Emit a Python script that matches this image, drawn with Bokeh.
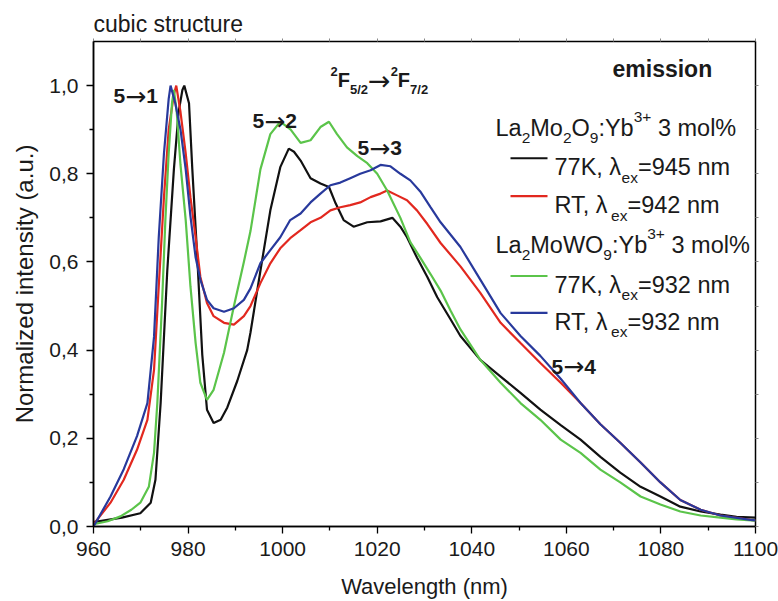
from bokeh.plotting import figure
from bokeh.models import Range1d, LinearAxis, FixedTicker, CustomJSTickFormatter, Label, Title
from bokeh.embed import file_html
from bokeh.resources import INLINE

# ---------------- data ----------------
wl_77k_mo2 = [960, 963, 966, 969.9, 972.1, 973.1, 974.2, 975.6, 977, 978, 978.8, 979.2, 980.2, 980.9,
              981.9, 983, 984, 985.4, 986.9, 988.3, 990.4, 992.5, 993.2, 995.3, 997.4, 999.5, 1001.3,
              1002.4, 1003.8, 1005.9, 1008, 1009.8, 1011.2, 1012.9, 1015, 1017.9, 1020.7, 1023.2,
              1024.9, 1026.3, 1028.4, 1030.6, 1032.7, 1035.5, 1037.6, 1041.8, 1046.1, 1050.3, 1054.5,
              1058.8, 1063, 1067.2, 1071.4, 1075.7, 1079.9, 1084.1, 1088.4, 1092.6, 1096, 1100]
int_77k_mo2 = [0.01, 0.015, 0.02, 0.03, 0.054, 0.106, 0.28, 0.58, 0.81, 0.94, 0.99, 1.0, 0.96, 0.81,
               0.62, 0.39, 0.265, 0.235, 0.242, 0.27, 0.33, 0.40, 0.44, 0.58, 0.717, 0.815, 0.857,
               0.85, 0.83, 0.79, 0.778, 0.77, 0.733, 0.695, 0.68, 0.69, 0.692, 0.70,
               0.68, 0.656, 0.61, 0.566, 0.52, 0.47, 0.432, 0.378, 0.34, 0.303, 0.265,
               0.23, 0.197, 0.158, 0.122, 0.09, 0.068, 0.045, 0.034, 0.027, 0.022, 0.02]

wl_rt_mo2 = [960, 963.6, 966.4, 969.2, 971.4, 972.8, 973.8, 974.9, 975.9, 977, 977.5, 978.4, 979.5,
             980.5, 981.6, 982.6, 984, 985.4, 987.6, 989.7, 991.8, 993.2, 995.3, 997.4, 999.5, 1001.6,
             1003.8, 1005.9, 1008, 1010.1, 1012.2, 1014.3, 1016.4, 1018.6, 1020.7, 1022.1, 1024.2,
             1026.3, 1028.4, 1030.6, 1033.4, 1037.6, 1041.8, 1046.1, 1050.3, 1054.5, 1058.8, 1063,
             1067.2, 1071.4, 1075.7, 1079.9, 1084.1, 1088.4, 1092.6, 1098.9, 1100]
int_rt_mo2 = [0.005, 0.054, 0.106, 0.174, 0.242, 0.355, 0.545, 0.747, 0.90, 0.98, 1.0, 0.94, 0.846,
              0.747, 0.656, 0.566, 0.507, 0.477, 0.462, 0.458, 0.477, 0.50, 0.552, 0.597, 0.631, 0.654,
              0.672, 0.69, 0.70, 0.717, 0.724, 0.729, 0.735, 0.747, 0.755, 0.762, 0.751,
              0.74, 0.717, 0.686, 0.643, 0.59, 0.53, 0.462, 0.416, 0.371, 0.326, 0.28,
              0.232, 0.19, 0.145, 0.10, 0.06, 0.038, 0.025, 0.015, 0.014]

wl_77k_mow = [960, 963, 965.7, 968, 969.9, 971.7, 972.8, 973.5, 974.5, 975.2, 975.9, 976.6, 977,
              977.6, 978.4, 979.5, 980.5, 981.6, 982.6, 984, 985.4, 987.6, 989.7, 991.8, 993.2, 995.3,
              997.4, 999.5, 1001.7, 1003.8, 1005.9, 1008, 1009.8, 1011.5, 1013.6, 1015.8, 1017.9, 1020,
              1022.1, 1024.9, 1027, 1029.1, 1031.3, 1033.4, 1035.5, 1037.6, 1041.8, 1046.1, 1050.3,
              1054.5, 1058.8, 1063, 1067.2, 1071.4, 1075.7, 1079.9, 1084.1, 1088.4, 1092.6, 1096, 1100]
int_77k_mow = [0.005, 0.012, 0.023, 0.038, 0.054, 0.09, 0.167, 0.28, 0.507, 0.695, 0.846, 0.96, 0.99,
               0.94, 0.82, 0.695, 0.545, 0.416, 0.326, 0.287, 0.31, 0.394, 0.50, 0.60, 0.67, 0.81,
               0.89, 0.918, 0.90, 0.87, 0.876, 0.906, 0.918, 0.89, 0.86, 0.84, 0.824, 0.80,
               0.762, 0.70, 0.645, 0.61, 0.572, 0.535, 0.49, 0.447, 0.378, 0.326, 0.28,
               0.242, 0.197, 0.167, 0.129, 0.10, 0.068, 0.05, 0.034, 0.025, 0.02, 0.016, 0.013]

wl_rt_mow = [960, 963.6, 966.4, 969.2, 971.4, 972.8, 973.8, 974.9, 975.9, 976.3, 977.3, 978.4, 979.5,
             980.5, 981.6, 982.6, 984, 985.4, 987.6, 989.7, 991.8, 993.2, 995.3, 997.4, 999.5, 1001.6,
             1003.8, 1005.9, 1008, 1010.1, 1012.2, 1014.3, 1016.4, 1018.6, 1020.7, 1022.8, 1024.9,
             1027, 1029.1, 1031.3, 1033.4, 1037.6, 1041.8, 1046.1, 1050.3, 1054.5, 1058.8, 1063,
             1067.2, 1071.4, 1075.7, 1079.9, 1084.1, 1088.4, 1092.6, 1098.9, 1100]
int_rt_mow = [0.0, 0.068, 0.13, 0.205, 0.28, 0.43, 0.656, 0.846, 0.97, 1.0, 0.96, 0.90, 0.81,
              0.704, 0.61, 0.56, 0.514, 0.495, 0.487, 0.495, 0.514, 0.54, 0.597, 0.627, 0.656, 0.695,
              0.71, 0.735, 0.755, 0.774, 0.78, 0.79, 0.80, 0.808, 0.82, 0.817, 0.80,
              0.785, 0.76, 0.724, 0.69, 0.634, 0.56, 0.484, 0.432, 0.387, 0.335, 0.28,
              0.232, 0.19, 0.145, 0.10, 0.06, 0.038, 0.025, 0.015, 0.014]

x_major_ticks = [960, 980, 1000, 1020, 1040, 1060, 1080, 1100]
x_minor_ticks = [970, 990, 1010, 1030, 1050, 1070, 1090]
y_major_ticks = [0.0, 0.2, 0.4, 0.6, 0.8, 1.0]
y_minor_ticks = [0.1, 0.3, 0.5, 0.7, 0.9]

series = [
    (wl_77k_mo2, int_77k_mo2, "#111111"),
    (wl_rt_mo2, int_rt_mo2, "#e2281f"),
    (wl_77k_mow, int_77k_mow, "#5bc44a"),
    (wl_rt_mow, int_rt_mow, "#28399c"),
]

# ---------------- layout ----------------
W, H = 778, 601
L, R, T, B = 93, 23, 41, 74
FW, FH = W - L - R, H - T - B
X0, X1, Y0, Y1 = 960, 1100, 0.0, 1.1
FONT = "Liberation Sans"
ARROW_FONT = "DejaVu Sans"


def dx(px):
    return X0 + (px - L) / FW * (X1 - X0)


def dy(py):
    return Y0 + (T + FH - py) / FH * (Y1 - Y0)


p = figure(width=W, height=H, x_range=Range1d(X0, X1), y_range=Range1d(Y0, Y1),
           output_backend="svg", toolbar_location=None,
           min_border_left=L, min_border_right=R, min_border_top=T, min_border_bottom=B,
           x_axis_label="Wavelength (nm)", y_axis_label="Normalized intensity (a.u.)")
p.grid.visible = False
p.outline_line_color = "black"
p.outline_line_width = 1.5
p.background_fill_color = "white"
p.border_fill_color = "white"

p.title = Title(text="cubic structure", align="left", text_font=FONT, text_font_size="23px",
                text_font_style="normal", text_color="#1a1a1a", standoff=3)

xa, ya = p.xaxis[0], p.yaxis[0]
xa.ticker = FixedTicker(ticks=x_major_ticks, minor_ticks=x_minor_ticks)
ya.ticker = FixedTicker(ticks=y_major_ticks, minor_ticks=y_minor_ticks)
ya.formatter = CustomJSTickFormatter(code="return tick.toFixed(1).replace('.', ',')")
for ax in (xa, ya):
    ax.axis_line_width = 1.5
    ax.axis_line_color = "black"
    ax.major_tick_out = 7
    ax.major_tick_in = 0
    ax.minor_tick_out = 4
    ax.minor_tick_in = 0
    ax.major_tick_line_width = 1.3
    ax.minor_tick_line_width = 1.3
    ax.major_tick_line_color = "black"
    ax.minor_tick_line_color = "black"
    ax.major_label_text_font = FONT
    ax.major_label_text_font_size = "21px"
    ax.major_label_text_color = "#1a1a1a"
    ax.major_label_standoff = 8
    ax.axis_label_text_font = FONT
    ax.axis_label_text_font_style = "normal"
    ax.axis_label_text_color = "#1a1a1a"
xa.axis_label_text_font_size = "22px"
xa.axis_label_standoff = 15
ya.axis_label_text_font_size = "24px"
ya.axis_label_standoff = 8

top_ax = LinearAxis(ticker=FixedTicker(ticks=x_major_ticks + x_minor_ticks),
                    formatter=CustomJSTickFormatter(code="return ''"))
right_ax = LinearAxis(ticker=FixedTicker(ticks=y_major_ticks + y_minor_ticks),
                      formatter=CustomJSTickFormatter(code="return ''"))
for ax in (top_ax, right_ax):
    ax.axis_line_color = None
    ax.major_tick_out = 3
    ax.major_tick_in = 0
    ax.minor_tick_out = 0
    ax.minor_tick_in = 0
    ax.major_tick_line_color = "#888888"
    ax.major_label_standoff = 0
p.add_layout(top_ax, "above")
p.add_layout(right_ax, "right")

for wl, it, col in series:
    p.line(wl, it, line_color=col, line_width=2.2)

# ---------------- text helpers ----------------
REG = {' ': 278, '%': 889, '(': 333, ')': 333, '+': 584, ',': 278, '.': 278, '/': 278, ':': 278,
       '=': 584, 'K': 667, 'L': 556, 'M': 833, 'O': 778, 'R': 722, 'T': 611, 'W': 944, 'Y': 667,
       'a': 556, 'b': 556, 'e': 556, 'l': 222, 'm': 833, 'n': 556, 'o': 556, 'x': 500,
       'λ': 520}
BOLD = {' ': 278, '/': 278, 'F': 611, 'e': 556, 'm': 889, 'i': 278, 's': 556,
        'o': 611, 'n': 611}


def tw(s, size, bold=False):
    tab = BOLD if bold else REG
    return sum(tab.get(c, 556) for c in s) * size / 1000.0


def put(text, px, py, size, bold=False, font=FONT, color="#1a1a1a"):
    p.add_layout(Label(x=dx(px), y=dy(py), text=text, text_font=font,
                       text_font_size=f"{size}px", text_font_style="bold" if bold else "normal",
                       text_color=color, text_align="left", text_baseline="alphabetic"))


def rich(parts, px, py, size, small, bold=False, sub_dy=10, sup_dy=-11, arrow=24):
    """parts: (text, kind) with kind n / sub / sup / arrow / gap"""
    x = px
    for txt, kind in parts:
        if kind == "gap":
            x += tw(" ", size, bold)
        elif kind == "arrow":
            put("→", x, py, arrow, font=ARROW_FONT)
            x += 0.838 * arrow
        elif kind == "n":
            put(txt, x, py, size, bold)
            x += tw(txt, size, bold)
        else:
            put(txt, x, py + (sub_dy if kind == "sub" else sup_dy), small, bold)
            x += tw(txt, small, bold)


# annotations
put("emission", 612, 69, 23, bold=True)
rich([("2", "sup"), ("F", "n"), ("5/2", "sub"), ("", "arrow"), ("2", "sup"), ("F", "n"), ("7/2", "sub")],
     330, 80, 20, 13, bold=True, sub_dy=9, sup_dy=-9, arrow=27)
for lab, lx, ly in [("1", 113, 96), ("2", 252, 121), ("3", 357, 148), ("4", 551, 367)]:
    rich([("5", "n"), ("", "arrow"), (lab, "n")], lx, ly, 21, 12, bold=True, arrow=25)

# legend block
rich([("La", "n"), ("2", "sub"), ("Mo", "n"), ("2", "sub"), ("O", "n"), ("9", "sub"),
      (":Yb", "n"), ("3+", "sup"), ("", "gap"), ("3 mol%", "n")], 495, 128, 23.5, 15.5)
rich([("La", "n"), ("2", "sub"), ("MoWO", "n"), ("9", "sub"),
      (":Yb", "n"), ("3+", "sup"), ("", "gap"), ("3 mol%", "n")], 495, 245, 23.5, 15.5)

legend_rows = [
    (158, "77K, λ", "=945 nm", series[0][2]),
    (196, "RT, λ", "=942 nm", series[1][2]),
    (276, "77K, λ", "=932 nm", series[2][2]),
    (313, "RT, λ", "=932 nm", series[3][2]),
]
for ly, a, b, col in legend_rows:
    p.segment(x0=[dx(510)], y0=[dy(ly)], x1=[dx(547)], y1=[dy(ly)], line_color=col, line_width=2.2)
    rich([(a, "n"), ("ex", "sub"), (b, "n")], 554, ly + 9, 23.5, 15.5)

open("out.html", "w").write(file_html(p, INLINE))
